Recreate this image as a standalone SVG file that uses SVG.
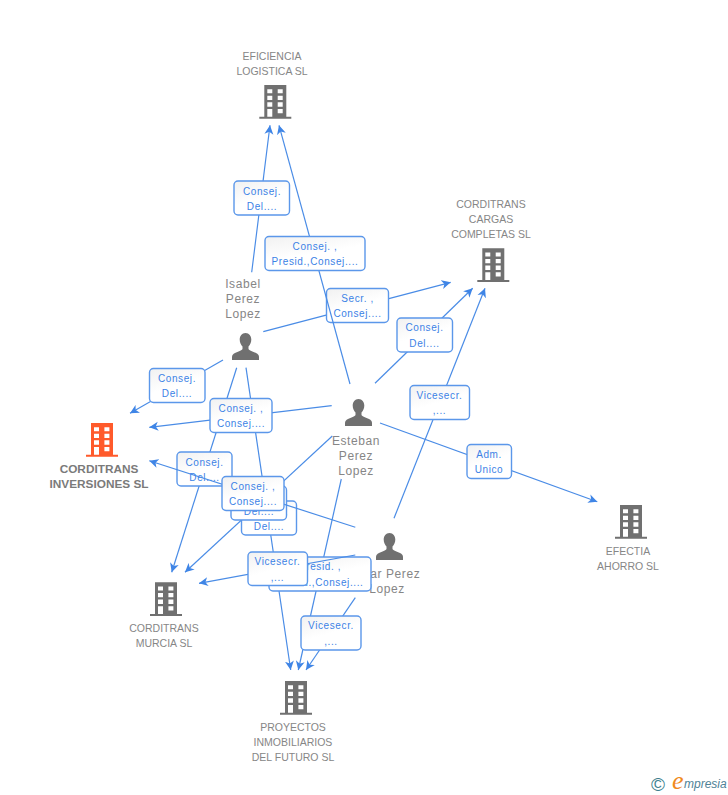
<svg xmlns="http://www.w3.org/2000/svg" xmlns:xlink="http://www.w3.org/1999/xlink" width="728" height="795" viewBox="0 0 728 795">
<style>
text{font-family:"Liberation Sans",Arial,sans-serif}
.n{font-size:10.5px;fill:#868686;text-anchor:middle}
.p{font-size:12px;fill:#868686;text-anchor:middle;letter-spacing:.6px}
.b{font-size:11.8px;font-weight:bold;fill:#7a7a7a;text-anchor:middle}
.e{fill:none;stroke:#4a8ce6;stroke-width:1.2;marker-end:url(#a)}
.l{fill:url(#g);stroke:#5b97ea;stroke-width:1.4}
.t{font-size:10px;fill:#3b82e6;text-anchor:middle;letter-spacing:.6px}
</style>
<defs>
<marker id="a" markerUnits="userSpaceOnUse" markerWidth="10" markerHeight="10" refX="9" refY="5" orient="auto" viewBox="0 0 10 10"><path d="M9 5L0 .5L2.500 5L0 9.500Z" fill="#3f85e6"/></marker>
<linearGradient id="g" x1="0" y1="0" x2=".5" y2="1"><stop offset="0" stop-color="#f1f1f1"/><stop offset=".6" stop-color="#fff"/></linearGradient>
<symbol id="bld" viewBox="0 0 32 34" width="32" height="34" overflow="visible">
<path fill-rule="evenodd" d="M5 0H27V31.700H32V33.700H0V31.700H5ZM8 4.300V8.300H13V4.300ZM18.400 4.300V8.300H23.400V4.300ZM8 10.700V15H13V10.700ZM18.400 10.700V15H23.400V10.700ZM8 17.300V21.700H13V17.300ZM18.400 17.300V21.700H23.400V17.300ZM8 24V31.700H13V24ZM18.400 24V28.300H23.400V24Z"/>
</symbol>
<symbol id="per" viewBox="0 0 27 27" width="27" height="27" overflow="visible">
<path d="M13.500 0C9.800 0 7.700 3 7.700 6.500C7.700 9.500 9 12 10.500 13.500V16C10 17.500 6 18.500 3 20C1 21 0 22 0 24V27H27V24C27 22 26 21 24 20C21 18.500 17 17.500 16.500 16V13.500C18 12 19.300 9.500 19.300 6.500C19.300 3 17.200 0 13.500 0Z"/>
</symbol>
</defs>
<rect width="728" height="795" fill="#fff"/>

<g id="node-eficiencia" fill="#707070"><use href="#bld" x="259.300" y="85"/><text class="n" x="272" y="60">EFICIENCIA</text><text class="n" x="272" y="75">LOGISTICA SL</text></g>
<g id="node-cargas" fill="#707070"><use href="#bld" x="477.300" y="248.300"/><text class="n" x="491" y="208">CORDITRANS</text><text class="n" x="491" y="223">CARGAS</text><text class="n" x="491" y="238">COMPLETAS SL</text></g>
<g id="node-corditrans" fill="#ff5a2b"><use href="#bld" x="86" y="423"/><text class="b" x="99" y="473">CORDITRANS</text><text class="b" x="99" y="488">INVERSIONES SL</text></g>
<g id="node-murcia" fill="#707070"><use href="#bld" x="150" y="582.300"/><text class="n" x="164" y="632">CORDITRANS</text><text class="n" x="164" y="647">MURCIA SL</text></g>
<g id="node-efectia" fill="#707070"><use href="#bld" x="615" y="505"/><text class="n" x="628" y="555">EFECTIA</text><text class="n" x="628" y="570">AHORRO SL</text></g>
<g id="node-proyectos" fill="#707070"><use href="#bld" x="280" y="681"/><text class="n" x="293" y="731">PROYECTOS</text><text class="n" x="293" y="746">INMOBILIARIOS</text><text class="n" x="293" y="761">DEL FUTURO SL</text></g>
<g id="node-isabel" fill="#707070"><use href="#per" x="232" y="333"/><text class="p" x="243" y="288">Isabel</text><text class="p" x="243" y="303">Perez</text><text class="p" x="243" y="318">Lopez</text></g>
<g id="node-esteban" fill="#707070"><use href="#per" x="345" y="399"/><text class="p" x="356" y="445">Esteban</text><text class="p" x="356" y="460">Perez</text><text class="p" x="356" y="475">Lopez</text></g>
<g id="node-omar" fill="#707070"><use href="#per" x="376" y="533"/><text class="p" x="385" y="578">Omar Perez</text><text class="p" x="387" y="593">Lopez</text></g>

<g id="connectors">
<path class="e" d="M251.700 272.300L270 125.300"/>
<rect class="l" x="234" y="181" width="55.500" height="34" rx="4"/><text class="t" x="262" y="194.500">Consej.</text><text class="t" x="262" y="210">Del....</text>
<path class="e" d="M263.300 331.700L450.700 282.300"/>
<rect class="l" x="326.500" y="288.500" width="62" height="34" rx="4"/><text class="t" x="357.500" y="302">Secr. ,</text><text class="t" x="357.500" y="317">Consej....</text>
<path class="e" d="M223 360L130 413.300"/>
<rect class="l" x="149.500" y="368.500" width="55.500" height="34" rx="4"/><text class="t" x="177" y="382">Consej.</text><text class="t" x="177" y="397">Del....</text>
<path class="e" d="M236.700 367.700L171.700 572.300"/>
<rect class="l" x="177" y="452" width="55" height="34" rx="4"/><text class="t" x="204.500" y="465.500">Consej.</text><text class="t" x="204.500" y="481">Del....</text>
<path class="e" d="M246 367.700L290.700 670"/>
<rect class="l" x="241.500" y="501" width="55" height="34" rx="4"/><text class="t" x="269" y="514.500">Consej.</text><text class="t" x="269" y="529.500">Del....</text>

<path class="e" d="M350 384L279 125.300"/>
<rect class="l" x="265" y="236.500" width="100" height="34" rx="4"/><text class="t" x="315" y="250">Consej. ,</text><text class="t" x="315" y="265">Presid.,Consej....</text>
<path class="e" d="M375 383.300L472.700 288.300"/>
<rect class="l" x="397" y="318" width="55.500" height="34" rx="4"/><text class="t" x="424.500" y="331">Consej.</text><text class="t" x="424.500" y="346.500">Del....</text>
<path class="e" d="M380 423L597.300 501.700"/>
<rect class="l" x="467" y="444.500" width="44.500" height="34" rx="4"/><text class="t" x="489" y="457.500">Adm.</text><text class="t" x="489" y="472.500">Unico</text>
<path class="e" d="M331.700 405.700L149.300 427.300"/>
<rect class="l" x="210" y="398.500" width="62" height="34" rx="4"/><text class="t" x="241" y="412">Consej. ,</text><text class="t" x="241" y="427">Consej....</text>
<path class="e" d="M332.300 436L185 572.300"/>
<rect class="l" x="231" y="486" width="55.500" height="34" rx="4"/><text class="t" x="259" y="499.500">Consej.</text><text class="t" x="259" y="515">Del....</text>
<path class="e" d="M341.300 479L298.300 670"/>
<rect class="l" x="269" y="557" width="102" height="34" rx="4"/><text class="t" x="320" y="570">Presid. ,</text><text class="t" x="320" y="585.500">Presid.,Consej....</text>

<path class="e" d="M394 518.300L485 288.300"/>
<rect class="l" x="410" y="385.500" width="59.500" height="34" rx="4"/><text class="t" x="439.500" y="398.500">Vicesecr.</text><text class="t" x="439.500" y="414">,...</text>
<path class="e" d="M355.300 527.300L149.300 460.700"/>
<rect class="l" x="222" y="476.500" width="62" height="34" rx="4"/><text class="t" x="253" y="489.500">Consej. ,</text><text class="t" x="253" y="504.500">Consej....</text>
<path class="e" d="M355.300 555L199 583.300"/>
<rect class="l" x="248" y="552" width="59.500" height="33.500" rx="4"/><text class="t" x="277.500" y="565">Vicesecr.</text><text class="t" x="277.500" y="581">,...</text>
<path class="e" d="M355.300 597.700L306 670"/>
<rect class="l" x="301" y="616" width="60" height="34" rx="4"/><text class="t" x="331" y="629">Vicesecr.</text><text class="t" x="331" y="645">,...</text>
</g>

<g id="logo">
<text x="658" y="790.500" text-anchor="middle" style="font-size:19px;fill:#3d7f8f">©</text>
<text x="672" y="789" style="font-family:'Liberation Serif',serif;font-size:26px;font-style:italic;fill:#f08a1d">e</text>
<text x="684" y="788" style="font-size:12px;font-style:italic;fill:#4f8296">mpresia</text>
</g>
</svg>
